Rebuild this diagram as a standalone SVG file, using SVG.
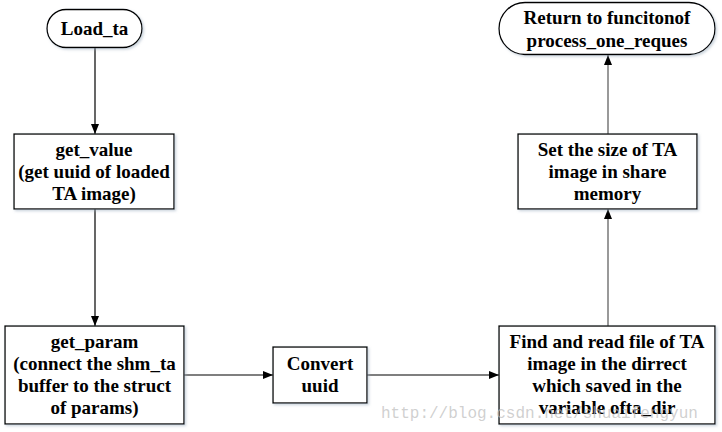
<svg xmlns="http://www.w3.org/2000/svg" width="722" height="432" viewBox="0 0 722 432">
<style>
.box{fill:#fff;stroke:#000;stroke-width:1.3;filter:url(#sh)}
.t{font-family:'Liberation Serif','Times New Roman',serif;font-weight:700;font-size:19px;fill:#000;text-anchor:middle}
.c{fill:none;stroke:#000;stroke-width:1.2}
.g{stroke:#555}
.wm{font-family:'Liberation Mono','Courier New',monospace;font-size:16px;fill:#bbb;fill-opacity:0.7}
</style>
<defs>
<filter id="sh" x="-5%" y="-5%" width="115%" height="120%">
<feDropShadow dx="1.5" dy="1.5" stdDeviation="1" flood-color="#9ab" flood-opacity="0.5"/>
</filter>
<marker id="a" viewBox="0 0 10 10" refX="10" refY="5" markerWidth="10" markerHeight="10" markerUnits="userSpaceOnUse" orient="auto">
<path d="M0,1 L10,5 L0,9 z" fill="#000"/>
</marker>
</defs>
<g id="connectors">
<line class="c" x1="95" y1="48" x2="95" y2="134" marker-end="url(#a)"/>
<line class="c" x1="95" y1="209" x2="95" y2="326" marker-end="url(#a)"/>
<line class="c" x1="184" y1="375" x2="273" y2="375" marker-end="url(#a)"/>
<line class="c" x1="367" y1="375" x2="499" y2="375" marker-end="url(#a)"/>
<line class="c g" x1="608" y1="326" x2="608" y2="209" marker-end="url(#a)"/>
<line class="c g" x1="608" y1="134" x2="608" y2="55" marker-end="url(#a)"/>
</g>
<g id="load_ta">
<rect class="box" x="47" y="9.5" width="95" height="38" rx="19" ry="19"/>
<text class="t" x="94.5" y="35">Load_ta</text>
</g>
<g id="get_value">
<rect class="box" x="14" y="134" width="160" height="75"/>
<text class="t" x="94" y="156">get_value</text>
<text class="t" x="94" y="178">(get uuid of loaded</text>
<text class="t" x="94" y="200">TA image)</text>
</g>
<g id="get_param">
<rect class="box" x="5" y="326" width="179" height="98"/>
<text class="t" x="94.5" y="348">get_param</text>
<text class="t" x="94.5" y="370">(connect the shm_ta</text>
<text class="t" x="94.5" y="392">buffer to the struct</text>
<text class="t" x="94.5" y="414">of params)</text>
</g>
<g id="convert_uuid">
<rect class="box" x="273" y="347" width="94" height="56"/>
<text class="t" x="320" y="370">Convert</text>
<text class="t" x="320" y="392">uuid</text>
</g>
<g id="find_read">
<rect class="box" x="499" y="326" width="216" height="98"/>
<text class="t" x="607" y="348">Find and read file of TA</text>
<text class="t" x="607" y="370">image in the dirrect</text>
<text class="t" x="607" y="392">which saved in the</text>
<text class="t" x="607" y="414">variable ofta_dir</text>
</g>
<g id="set_size">
<rect class="box" x="518" y="134" width="179" height="75"/>
<text class="t" x="607.5" y="156">Set the size of TA</text>
<text class="t" x="607.5" y="178">image in share</text>
<text class="t" x="607.5" y="200">memory</text>
</g>
<g id="return">
<rect class="box" x="499" y="2.5" width="216" height="52" rx="26" ry="26"/>
<text class="t" x="607" y="24">Return to funcitonof</text>
<text class="t" x="607" y="47">process_one_reques</text>
</g>
<text class="wm" x="381" y="418">http://blog.csdn.net/shuaifengyun</text>
</svg>
